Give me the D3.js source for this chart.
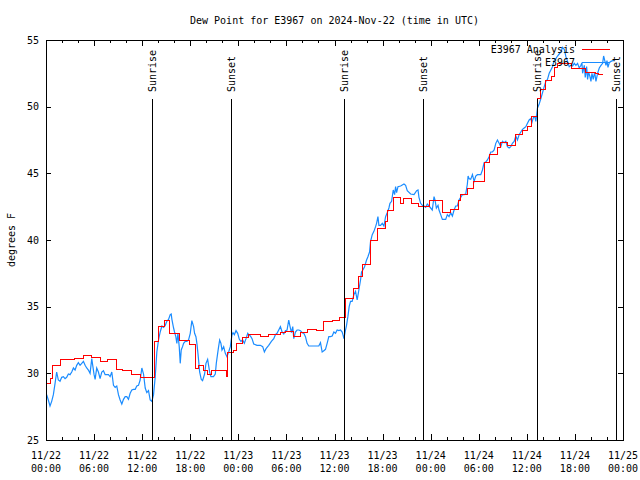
<!DOCTYPE html>
<html>
<head>
<meta charset="utf-8">
<script src="https://cdn.jsdelivr.net/npm/d3@7"></script>
<style>
  body { margin: 0; background: #fff; }
  text { font-family: "DejaVu Sans Mono", monospace; font-size: 10px; fill: #000; }
</style>
</head>
<body>
<svg id="chart" width="640" height="480"></svg>
<script>
// ---- data (hours since 2024-11-22 00:00 UTC, degrees F) ----
const anaHours = [0,0.5,0.8,1.75,3.6,4.7,5.7,6.75,7.7,8.8,9.6,10.7,11.75,13.5,14.04,14.75,15.4,16.6,17.9,18.6,19.04,19.67,20.2,20.7,22.55,22.7,23.4,23.8,24.54,25.3,26.75,27.8,29.25,29.875,30.9,31.75,32.67,33.75,34.67,35.7,36.67,37.375,38.4,39.04,39.46,40.5,41.4,42.375,42.58,43.33,44.25,44.67,45.58,46.54,47.8,49.46,50.5,51.46,51.75,52.6,53.4,54.67,55.4,56.4,56.7,57.6,58.6,59.46,60.1,60.6,61.3,61.7,62.3,63.1,63.5,63.8,65.6,67.3,68.6,69.0,69.5];
const anaDew = [29.25,29.6,30.6,31.05,31.15,31.35,31.2,30.9,31.05,30.3,30.2,29.9,29.7,32.4,33.55,33.95,33.0,32.45,32.2,30.35,30.6,30.2,29.95,30.25,29.8,31.6,31.75,32.25,32.7,32.9,32.8,32.9,33.05,33.15,32.8,33.1,33.3,33.2,33.9,34.0,34.2,35.6,36.4,37.25,38.2,39.95,40.9,41.4,42.2,43.2,42.75,43.1,42.75,42.55,42.95,42.1,42.3,43.0,43.4,43.9,44.4,45.8,46.4,46.95,47.3,47.1,47.9,48.25,48.55,49.3,50.6,51.3,52.0,52.25,52.95,53.25,52.9,52.6,52.5,52.45,52.45];

const obsHours = [0.08,0.29,0.5,0.71,0.92,1.13,1.33,1.54,1.75,1.96,2.17,2.38,2.58,2.79,3.0,3.21,3.42,3.63,3.83,4.04,4.25,4.46,4.67,4.88,5.08,5.29,5.5,5.71,5.83,6.0,6.13,6.33,6.54,6.75,6.96,7.17,7.38,7.58,7.79,8.0,8.21,8.42,8.63,8.83,9.04,9.25,9.46,9.67,9.88,10.08,10.29,10.5,10.71,10.92,11.13,11.33,11.54,11.75,11.96,12.17,12.38,12.58,12.79,13.0,13.21,13.42,13.63,13.83,14.04,14.25,14.46,14.67,14.88,15.08,15.29,
15.5,15.625,15.71,15.92,16.04,16.2,16.33,16.46,16.625,16.75,16.875,17.04,17.17,17.375,17.58,17.79,18.0,18.2,18.42,18.54,18.71,18.83,18.96,19.04,19.17,19.375,19.54,19.79,19.96,20.17,20.29,20.42,20.58,20.9,21.125,21.25,21.42,21.54,21.67,21.83,21.96,22.17,22.375,22.58,22.79,23.0,23.21,23.33,23.5,23.71,23.92,24.125,24.33,24.54,24.75,24.96,25.17,25.29,25.5,25.71,25.92,26.33,26.75,27.04,27.25,27.46,27.79,28.125,28.42,28.625,28.83,29.04,29.25,29.46,29.67,29.875,30.08,30.29,30.42,30.625,30.79,
30.92,31.125,31.33,31.54,31.75,31.96,32.17,32.375,32.58,32.79,33.2,33.625,34.04,34.25,34.46,34.67,34.875,35.08,35.29,35.5,35.71,35.92,36.125,36.33,36.54,36.75,36.96,37.08,37.17,37.375,37.5,37.67,37.83,38.0,38.2,38.42,38.625,38.83,39.04,39.25,39.375,39.54,39.75,40.0,40.17,40.375,40.5,40.71,40.92,41.125,41.25,41.42,41.54,41.75,41.96,42.17,42.375,42.58,42.79,42.92,43.125,43.33,43.5,43.625,43.75,43.92,44.25,44.67,44.875,45.08,45.5,45.92,46.25,46.42,
46.54,46.75,46.96,47.17,47.375,47.58,47.79,48.0,48.2,48.42,48.54,48.71,48.92,49.04,49.25,49.46,49.875,50.08,50.29,50.5,50.71,50.92,51.125,51.33,51.54,51.75,51.96,52.17,52.375,52.58,52.67,52.79,53.0,53.21,53.42,53.625,53.83,54.25,54.46,54.67,54.875,55.08,55.29,55.5,55.71,55.92,56.125,56.33,56.54,56.75,56.96,57.17,57.375,57.58,57.79,58.0,58.2,58.42,58.625,58.83,59.04,59.25,59.46,59.67,59.875,60.08,60.29,60.5,60.625,60.83,61.0,61.125,61.33,61.54,61.75,
61.96,62.17,62.375,62.58,62.79,63.0,63.2,63.42,63.625,63.83,64.04,64.25,64.46,64.67,64.875,65.08,65.29,65.5,65.71,65.92,66.125,66.33,66.54,66.75,66.875,66.96,67.17,67.29,67.46,67.58,67.71,67.875,68.0,68.125,68.29,68.46,68.625,68.83,69.04,69.25,69.46,69.58,69.75,69.875,70.0,70.125,70.29,70.5,70.71,70.875];
const obsDew = [28.4,28.0,27.55,27.9,28.4,29.25,30.1,29.5,29.4,29.7,29.75,29.6,29.7,29.95,29.9,30.1,30.4,30.25,30.6,30.8,30.6,30.75,30.9,30.6,30.4,30.25,30.0,31.1,30.6,29.9,29.55,30.4,30.1,29.6,30.1,30.2,29.9,29.9,29.9,29.75,30.1,29.1,28.95,29.05,28.4,28.0,27.7,28.05,28.25,28.25,28.05,28.5,28.75,28.8,28.8,29.05,29.1,29.5,30.4,29.95,28.9,28.55,28.7,28.0,27.9,28.4,29.75,31.6,32.5,33.1,33.55,33.45,33.6,33.9,34.05,
34.4,34.45,34.05,33.4,33.1,32.75,32.25,33.0,32.0,30.75,31.75,32.0,32.25,32.4,32.4,32.5,33.0,33.95,33.5,33.0,32.75,32.25,31.5,31.0,30.1,29.55,29.45,29.95,30.75,31.05,30.6,30.1,29.75,29.75,29.95,30.75,31.5,32.0,32.5,32.25,31.75,32.0,31.5,31.25,31.6,32.0,32.9,33.05,32.9,33.2,33.0,32.55,32.4,32.5,32.25,32.6,33.0,32.9,32.8,32.6,32.2,32.1,32.1,32.0,31.6,31.85,32.1,32.4,32.6,32.9,33.0,33.25,33.5,33.1,32.95,33.2,33.25,34.0,33.6,33.05,33.5,
32.6,33.1,33.25,33.25,33.2,33.05,33.0,32.75,32.25,32.05,32.05,32.05,32.05,32.3,31.6,31.7,31.8,32.25,32.75,32.75,32.8,33.1,33.0,33.25,33.2,33.25,33.1,32.85,32.6,33.25,33.6,34.25,35.0,35.4,35.4,35.9,36.15,35.5,36.25,37.0,37.6,37.75,38.0,38.5,38.75,39.1,39.9,40.4,40.65,41.0,41.25,41.75,41.1,41.1,41.25,41.05,41.75,42.05,42.4,42.75,42.9,43.75,43.4,44.0,43.55,44.0,44.05,44.2,44.1,43.7,43.45,43.4,43.7,43.75,
43.2,42.75,42.6,42.55,42.45,42.7,42.55,42.4,42.25,43.25,43.0,42.4,42.6,42.25,41.9,41.55,41.55,41.9,41.75,42.05,41.8,42.25,42.55,42.55,43.0,43.2,43.4,43.4,43.45,44.2,44.8,44.6,44.55,44.9,44.4,44.8,44.9,44.9,45.25,45.8,45.85,46.0,46.25,46.6,46.6,46.75,47.25,47.5,47.25,47.0,47.4,47.3,47.4,47.0,46.9,47.0,47.25,47.4,47.8,47.5,47.9,48.1,48.3,48.4,48.5,48.75,49.0,49.1,48.8,49.2,49.25,48.9,49.9,50.2,50.6,
51.05,51.5,51.9,52.05,52.5,52.75,53.0,53.5,53.6,53.8,53.95,54.1,54.45,54.3,53.75,53.4,53.0,53.1,53.05,53.25,53.1,53.25,52.9,53.1,53.3,52.5,53.1,52.2,53.0,52.05,52.6,52.25,51.9,52.5,52.05,52.6,51.9,52.5,52.9,53.1,53.25,53.8,53.4,53.1,53.45,52.95,53.3,53.4,53.45,53.45];

const sunriseHours = [13.25, 37.23, 61.22];
const sunsetHours = [23.1, 47.08, 71.15];
const yTickValues = [25, 30, 35, 40, 45, 50, 55];
const xTickHours = [0, 6, 12, 18, 24, 30, 36, 42, 48, 54, 60, 66, 72];
const xTickDays = ["11/22","11/22","11/22","11/22","11/23","11/23","11/23","11/23","11/24","11/24","11/24","11/24","11/25"];
const xTickTimes = ["00:00","06:00","12:00","18:00","00:00","06:00","12:00","18:00","00:00","06:00","12:00","18:00","00:00"];
const xMinorHours = d3.range(0, 73, 2);

const titleText = "Dew Point for E3967 on 2024-Nov-22 (time in UTC)";
const yLabelText = "degrees F";
const seriesNames = ["E3967 Analysis", "E3967"];
const seriesColors = ["#ff0000", "#1a8cff"];

// ---- layout ----
const L = 46, R = 623, T = 40, B = 440;
const svg = d3.select("#chart");
const x = d3.scaleLinear().domain([0, 72]).range([L, R]);
const y = d3.scaleLinear().domain([25, 55]).range([B, T]);

// title & y label
svg.append("text").attr("x", (L + R) / 2).attr("y", 24).attr("text-anchor", "middle").text(titleText);
svg.append("text").attr("transform", `translate(11,${(T + B) / 2}) rotate(-90)`)
  .attr("text-anchor", "middle").attr("dy", "0.35em").text(yLabelText);

// axes (ticks inward on all sides)
function styleAxis(g) {
  g.select(".domain").remove();
  g.selectAll("line").attr("stroke", "#000").attr("shape-rendering", "crispEdges");
  g.selectAll("text").remove();
}
svg.append("g").attr("transform", `translate(0,${B})`)
  .call(d3.axisBottom(x).tickValues(xMinorHours).tickSize(-3).tickFormat("")).call(styleAxis);
svg.append("g").attr("transform", `translate(0,${T})`)
  .call(d3.axisTop(x).tickValues(xMinorHours).tickSize(-3).tickFormat("")).call(styleAxis);
svg.append("g").attr("transform", `translate(0,${B})`)
  .call(d3.axisBottom(x).tickValues(xTickHours).tickSize(-6).tickFormat("")).call(styleAxis);
svg.append("g").attr("transform", `translate(0,${T})`)
  .call(d3.axisTop(x).tickValues(xTickHours).tickSize(-6).tickFormat("")).call(styleAxis);
svg.append("g").attr("transform", `translate(${L},0)`)
  .call(d3.axisLeft(y).tickValues(yTickValues).tickSize(-5).tickFormat("")).call(styleAxis);
svg.append("g").attr("transform", `translate(${R},0)`)
  .call(d3.axisRight(y).tickValues(yTickValues).tickSize(-5).tickFormat("")).call(styleAxis);

// tick labels
svg.append("g").selectAll("text").data(yTickValues).join("text")
  .attr("x", L - 7).attr("y", d => y(d)).attr("dy", "0.35em").attr("text-anchor", "end").text(d => d);
const xl = svg.append("g").selectAll("g").data(xTickHours).join("g");
xl.append("text").attr("x", d => x(d)).attr("y", 459).attr("text-anchor", "middle").text((d, i) => xTickDays[i]);
xl.append("text").attr("x", d => x(d)).attr("y", 472).attr("text-anchor", "middle").text((d, i) => xTickTimes[i]);

// data lines
const obs = obsHours.map((h, i) => [h, obsDew[i]]);
const ana = anaHours.map((h, i) => [h, anaDew[i]]);
svg.append("path").datum(obs).attr("fill", "none").attr("stroke", seriesColors[1]).attr("stroke-width", 1.2)
  .attr("d", d3.line().x(d => x(d[0])).y(d => y(d[1])));
svg.append("path").datum(ana).attr("fill", "none").attr("stroke", seriesColors[0]).attr("stroke-width", 1)
  .attr("shape-rendering", "crispEdges")
  .attr("d", d3.line().curve(d3.curveStepAfter).x(d => x(d[0])).y(d => y(d[1])));

// sunrise / sunset markers
const sun = sunriseHours.map(h => ({h, t: "Sunrise"})).concat(sunsetHours.map(h => ({h, t: "Sunset"})));
svg.append("g").selectAll("line").data(sun).join("line")
  .attr("x1", d => Math.round(x(d.h)) + 0.5).attr("x2", d => Math.round(x(d.h)) + 0.5)
  .attr("y1", T + 59).attr("y2", B).attr("stroke", "#000").attr("stroke-width", 1);
svg.append("g").selectAll("text").data(sun).join("text")
  .attr("transform", d => `translate(${Math.round(x(d.h)) + 0.5},${T + 52}) rotate(-90)`)
  .attr("dy", "0.35em").attr("text-anchor", "start").text(d => d.t);

// border
svg.append("rect").attr("x", L + 0.5).attr("y", T + 0.5).attr("width", R - L).attr("height", B - T)
  .attr("fill", "none").attr("stroke", "#000").attr("shape-rendering", "crispEdges");

// legend
const leg = svg.append("g").selectAll("g").data(seriesNames).join("g")
  .attr("transform", (d, i) => `translate(0,${49 + i * 13})`);
leg.append("text").attr("x", 575).attr("dy", "0.35em").attr("text-anchor", "end").text(d => d);
leg.append("line").attr("x1", 582).attr("x2", 610).attr("y1", 0.5).attr("y2", 0.5)
  .attr("stroke", (d, i) => seriesColors[i]).attr("stroke-width", 1);
</script>
</body>
</html>
